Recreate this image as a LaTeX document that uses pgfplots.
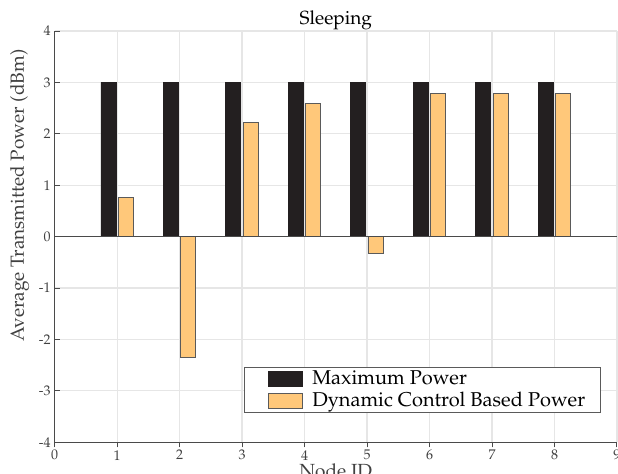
\documentclass[border=0pt]{standalone}
\usepackage[T1]{fontenc}
\usepackage{mathpazo}
\usepackage{pgfplots}
\pgfplotsset{compat=1.18}

\definecolor{barblack}{HTML}{231F20}
\definecolor{barorange}{HTML}{FFC87A}
\definecolor{edgegray}{HTML}{5A5A5A}
\definecolor{axisgray}{HTML}{4A4A4A}
\definecolor{gridgray}{HTML}{E6E6E6}
\definecolor{labelgray}{HTML}{404040}

\begin{document}
\begin{tikzpicture}
\begin{axis}[
  scale only axis,
  width=281pt, height=205.5pt,
  xmin=0, xmax=9, ymin=-4, ymax=4,
  xtick={0,1,...,9}, ytick={-4,-3,...,4},
  yticklabels={-4,-3,-2,-1,0,1,2,3,4},
  axis x line*=bottom, axis y line*=left,
  axis line style={axisgray, line width=0.6pt, -},
  tick style={axisgray, line width=0.5pt},
  major tick length=2.5pt,
  tick align=inside,
  grid=major,
  major grid style={gridgray, line width=0.6pt},
  tick label style={font=\fontsize{7}{8}\selectfont, text=labelgray},
  xticklabel style={yshift=2pt},
  yticklabel style={xshift=1.5pt},
  ybar, bar width=7.5pt,
  xlabel={Node ID},
  xlabel style={font=\fontsize{9.5}{11}\selectfont, text=labelgray, at={(rel axis cs:0.5,0)}, anchor=north, inner sep=0pt, yshift=-10.5pt},
  ylabel={Average Transmitted Power (dBm)},
  ylabel style={font=\fontsize{9.5}{11}\selectfont, text=labelgray, at={(rel axis cs:0,0.6)}, anchor=center, inner sep=0pt, yshift=17.5pt},
  legend style={at={(rel axis cs:0.9715,0.07)}, anchor=south east,
    draw=edgegray, line width=0.5pt, fill=white,
    font=\fontsize{10}{11}\selectfont, inner xsep=6pt, inner ysep=0.2pt,
    row sep=-1pt, nodes={inner sep=1.6pt}},
  legend cell align=left,
  legend image code/.code={
    \path (0pt,0pt) (26pt,0pt);
    \draw[#1] (6pt,-3.75pt) rectangle (23pt,3.75pt);},
  clip=false,
]
\addplot[fill=barblack, draw=barblack, line width=0.3pt, bar shift=-4.4pt]
  coordinates {(1,3) (2,3) (3,3) (4,3) (5,3) (6,3) (7,3) (8,3)};
\addplot[fill=barorange, draw=edgegray, line width=0.5pt, bar shift=4.4pt]
  coordinates {(1,0.77) (2,-2.36) (3,2.22) (4,2.59) (5,-0.32) (6,2.79) (7,2.79) (8,2.79)};
\legend{Maximum Power, Dynamic Control Based Power}
\draw[axisgray, line width=0.6pt] (axis cs:0,0) -- (axis cs:9,0);
\node[font=\fontsize{9.5}{11}\selectfont, anchor=base, inner sep=0pt]
  at ([yshift=3.5pt]rel axis cs:0.5,1) {Sleeping};
\end{axis}
\pgfresetboundingbox
\path ([xshift=-27.3pt,yshift=-15.6pt]current axis.south west)
  rectangle ([xshift=0.5pt,yshift=15.5pt]current axis.north east);
\end{tikzpicture}
\end{document}
